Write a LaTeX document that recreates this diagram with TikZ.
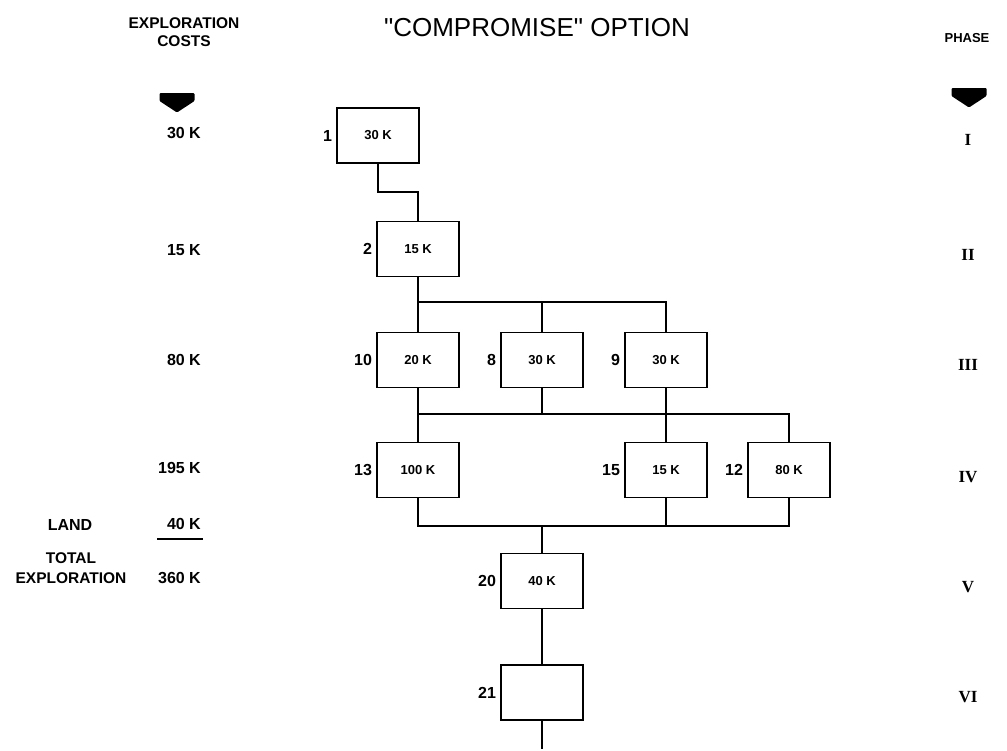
\documentclass[tikz,border=0pt]{standalone}
\usepackage{fontspec}
\setmainfont{Liberation Sans}
\newfontfamily\romfont{Liberation Serif}
\usetikzlibrary{positioning}

\begin{document}
\begin{tikzpicture}[
    x=1pt,y=-1pt,
    node distance=4pt,
    stage/.style={draw,line width=1.6pt,minimum width=82pt,minimum height=55pt,
      inner sep=0pt,font=\fontsize{13}{15}\selectfont\bfseries},
    tag/.style={inner sep=0pt,font=\fontsize{16}{18}\selectfont\bfseries},
    cost/.style={tag,anchor=east},
    roman/.style={inner sep=0pt,font=\fontsize{17}{19}\selectfont\romfont\bfseries},
    link/.style={line width=1.9pt},
    bigarrow/.pic={\fill[rounded corners=1pt] (-17.5,0) -- (17.5,0) -- (17.5,8) -- (0,19.5) -- (-17.5,8) -- cycle;}
  ]
  \useasboundingbox (0,0) rectangle (1007,750);
  % headings
  \node[align=center,inner sep=0pt,font=\fontsize{15.5}{18}\selectfont\bfseries] (costhead) at (184,32) {EXPLORATION\\COSTS};
  \node[inner sep=0pt,font=\fontsize{26}{30}\selectfont] (title) at (537,28) {\textquotedbl COMPROMISE\textquotedbl\ OPTION};
  \node[inner sep=0pt,font=\fontsize{13}{15}\selectfont\bfseries] (phasehead) at (967,38) {PHASE};
  \pic at (177,93) {bigarrow};
  \pic at (969,88) {bigarrow};
  % boxes
  \node[stage] (b1) at (378,135.5) {30 K};
  \node[stage] (b2) at (418,249) {15 K};
  \node[stage] (b10) at (418,360) {20 K};
  \node[stage] (b8) at (542,360) {30 K};
  \node[stage] (b9) at (666,360) {30 K};
  \node[stage] (b13) at (418,470) {100 K};
  \node[stage] (b15) at (666,470) {15 K};
  \node[stage] (b12) at (789,470) {80 K};
  \node[stage] (b20) at (542,581) {40 K};
  \node[stage] (b21) at (542,692.5) {};
  \node[tag,left=of b1] {1};
  \node[tag,left=of b2] {2};
  \node[tag,left=of b10] {10};
  \node[tag,left=of b8] {8};
  \node[tag,left=of b9] {9};
  \node[tag,left=of b13] {13};
  \node[tag,left=of b15] {15};
  \node[tag,left=of b12] {12};
  \node[tag,left=of b20] {20};
  \node[tag,left=of b21] {21};
  % connectors
  \coordinate (busA) at (0,302);
  \coordinate (busB) at (0,414);
  \coordinate (busC) at (0,526);
  \coordinate (tail) at (542,749);
  \draw[link] (b1.south) -- ++(0,28) -| (b2.north);
  \draw[link] (b2.south) -- (b2.south |- busA) -| (b9.north);
  \draw[link] (b10.north) -- (b10.north |- busA);
  \draw[link] (b8.north) -- (b8.north |- busA);
  \draw[link] (b10.south) -- (b10.south |- busB) -| (b12.north);
  \draw[link] (b8.south) -- (b8.south |- busB);
  \draw[link] (b9.south) -- (b15.north);
  \draw[link] (b13.north) -- (b13.north |- busB);
  \draw[link] (b13.south) -- (b13.south |- busC) -| (b12.south);
  \draw[link] (b15.south) -- (b15.south |- busC);
  \draw[link] (b20.north) -- (b20.north |- busC);
  \draw[link] (b20.south) -- (b21.north);
  \draw[link] (b21.south) -- (tail);
  % cost column
  \node[cost] (c1) at (201,133) {30 K};
  \node[cost] (c2) at (201,250) {15 K};
  \node[cost] (c3) at (201,360) {80 K};
  \node[cost] (c4) at (201,468) {195 K};
  \node[tag] (land) at (70,525) {LAND};
  \node[cost] (landval) at (201,524) {40 K};
  \draw[link] (157,539) -- (203,539);
  \node[tag,align=center,font=\fontsize{15.5}{20}\selectfont\bfseries] (total) at (71,568) {TOTAL\\EXPLORATION};
  \node[cost] (totalval) at (201,578) {360 K};
  % phase column
  \node[roman] (p1) at (968,140) {I};
  \node[roman] (p2) at (968,255) {II};
  \node[roman] (p3) at (968,365) {III};
  \node[roman] (p4) at (968,477) {IV};
  \node[roman] (p5) at (968,587) {V};
  \node[roman] (p6) at (968,697) {VI};
\end{tikzpicture}
\end{document}
